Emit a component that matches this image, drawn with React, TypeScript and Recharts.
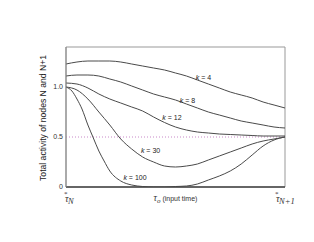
import { LineChart, Line, XAxis, YAxis, ReferenceLine, ReferenceDot, ReferenceArea, Label } from 'recharts';

// input time, as fraction of the interval between the two node times
const tau = [0, 0.05, 0.1, 0.15, 0.2, 0.25, 0.3, 0.35, 0.4, 0.45, 0.5, 0.55, 0.6, 0.65, 0.7, 0.75, 0.8, 0.85, 0.9, 0.95, 1];
const k4 = [1.23, 1.25, 1.26, 1.26, 1.26, 1.25, 1.23, 1.21, 1.19, 1.17, 1.14, 1.11, 1.07, 1.03, 0.99, 0.95, 0.92, 0.89, 0.85, 0.82, 0.79];
const k8 = [1.11, 1.12, 1.12, 1.11, 1.08, 1.05, 1.01, 0.97, 0.93, 0.9, 0.87, 0.83, 0.79, 0.75, 0.72, 0.69, 0.66, 0.64, 0.62, 0.6, 0.59];
const k12 = [1.04, 1.03, 0.99, 0.93, 0.88, 0.84, 0.8, 0.76, 0.7, 0.645, 0.6, 0.57, 0.55, 0.54, 0.53, 0.525, 0.52, 0.515, 0.51, 0.51, 0.51];
const k30 = [1.0, 0.97, 0.88, 0.75, 0.62, 0.48, 0.38, 0.3, 0.25, 0.21, 0.2, 0.21, 0.23, 0.27, 0.31, 0.35, 0.39, 0.43, 0.46, 0.48, 0.5];

// k = 100 drops fast, so it gets a finer grid at the start
const tauFine = [0, 0.027, 0.05, 0.073, 0.1, 0.123, 0.15, 0.174, 0.2, 0.25, 0.3, 0.35, 0.4, 0.45, 0.5, 0.55, 0.6, 0.65, 0.7, 0.75, 0.8, 0.85, 0.9, 0.95, 1];
const k100 = [1.0, 0.96, 0.88, 0.78, 0.62, 0.5, 0.36, 0.26, 0.16, 0.06, 0.02, 0.005, 0, 0, 0.005, 0.01, 0.03, 0.07, 0.11, 0.16, 0.23, 0.32, 0.41, 0.47, 0.5];

const yTicks = [0, 0.5, 1];
const xTicks = [0, 1];
const xTickSubs = ['N', 'N+1'];

// curve labels: [k, tau, activity]
const curveLabels: [string, number, number][] = [
  ['4', 0.628, 1.1],
  ['8', 0.555, 0.87],
  ['12', 0.484, 0.7],
  ['30', 0.386, 0.37],
  ['100', 0.315, 0.1],
];

const toPoints = (xs: number[], ys: number[]) => xs.map((x, i) => ({ x, y: ys[i] }));

const series = [
  { name: 'k4', data: toPoints(tau, k4) },
  { name: 'k8', data: toPoints(tau, k8) },
  { name: 'k12', data: toPoints(tau, k12) },
  { name: 'k30', data: toPoints(tau, k30) },
  { name: 'k100', data: toPoints(tauFine, k100) },
];

const SANS = '"Liberation Sans", Arial, sans-serif';
const SERIF = '"Liberation Serif", "DejaVu Serif", serif';
const CURVE = '#4a4a4a';

function TauTick({ x, y, index }: any) {
  const last = index === xTicks.length - 1;
  const dx = last ? -10 : -2;
  return (
    <g transform={`translate(${x},${y})`}>
      <text x={dx} y={15} fontFamily={SERIF} fontStyle="italic" fontSize={10} fill="#333">
        τ
        <tspan dx={-4.6} dy={-6} fontSize={7} fontStyle="normal">*</tspan>
        <tspan dx={0.5} dy={8} fontSize={8.5}>{xTickSubs[index]}</tspan>
      </text>
    </g>
  );
}

function XTitle({ viewBox }: any) {
  const cx = viewBox.x + viewBox.width / 2;
  return (
    <text x={cx} y={viewBox.y + 14} textAnchor="middle" fill="#333">
      <tspan fontFamily={SERIF} fontStyle="italic" fontSize={9.5}>τ</tspan>
      <tspan fontFamily={SERIF} fontStyle="italic" fontSize={7} dy={1.5}>o</tspan>
      <tspan fontFamily={SANS} fontSize={7} dy={-1.5}> (input time)</tspan>
    </text>
  );
}

function YTitle({ viewBox }: any) {
  const x = viewBox.x + 7;
  const y = 118;
  return (
    <text
      x={x}
      y={y}
      transform={`rotate(-90, ${x}, ${y})`}
      textAnchor="middle"
      dominantBaseline="central"
      fontFamily={SANS}
      fontSize={8.6}
      fill="#222"
    >
      Total activity of nodes N and N+1
    </text>
  );
}

function KLabel(k: string) {
  return (props: any) => (
    <text
      x={props.cx}
      y={props.cy}
      textAnchor="middle"
      dominantBaseline="central"
      fontFamily={SANS}
      fontSize={7}
      fill="#222"
    >
      <tspan fontStyle="italic">k</tspan> = {k}
    </text>
  );
}

export default function App() {
  return (
    <div style={{ position: 'absolute', left: 0, top: 0, width: 314, height: 242, background: '#fff' }}>
      <LineChart width={314} height={242} margin={{ top: 47, right: 29, bottom: 25, left: 36 }}>
        {/* plot frame */}
        <ReferenceArea x1={0} x2={1} y1={0} y2={1.4} fill="none" stroke="#999" strokeWidth={1} ifOverflow="visible" />
        <XAxis
          type="number"
          dataKey="x"
          domain={[0, 1]}
          ticks={xTicks}
          tick={<TauTick />}
          tickSize={0}
          tickMargin={0}
          height={30}
          axisLine={{ stroke: '#444', strokeWidth: 1.5 }}
          interval={0}
        >
          <Label content={<XTitle />} />
        </XAxis>
        <YAxis
          type="number"
          domain={[0, 1.4]}
          ticks={yTicks}
          tickFormatter={(v: number) => (v === 0 ? '0' : v === 1 ? '1.0' : String(v))}
          tick={{ fontSize: 7, fill: '#333', fontFamily: SANS }}
          tickSize={0}
          tickMargin={3}
          width={30}
          axisLine={{ stroke: '#888' }}
          allowDataOverflow
        >
          <Label content={<YTitle />} />
        </YAxis>
        <ReferenceLine y={0.5} stroke="#c888c8" strokeDasharray="1 2" strokeWidth={1} />
        {series.map((s) => (
          <Line
            key={s.name}
            data={s.data}
            dataKey="y"
            type="monotone"
            stroke={CURVE}
            strokeWidth={1}
            dot={false}
            isAnimationActive={false}
          />
        ))}
        {curveLabels.map(([k, x, y]) => (
          <ReferenceDot key={k} x={x} y={y} r={0} shape={KLabel(k)} />
        ))}
      </LineChart>
    </div>
  );
}
